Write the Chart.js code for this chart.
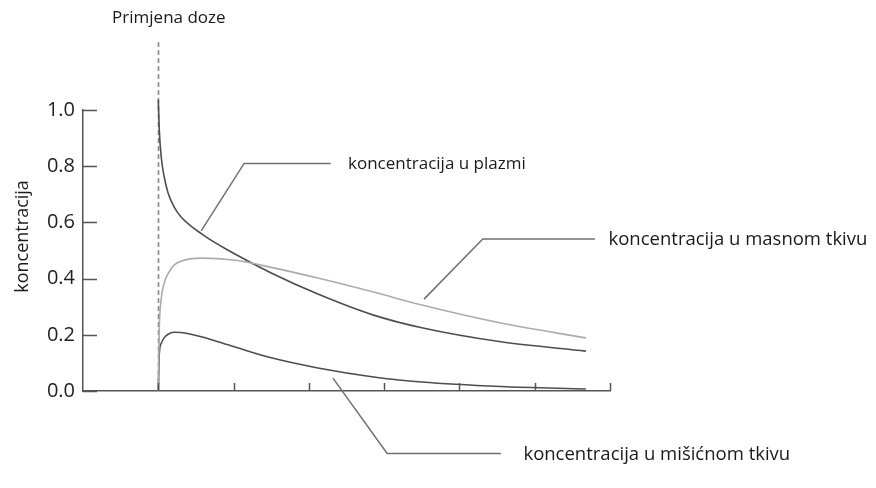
<!DOCTYPE html>
<html><head><meta charset="utf-8">
<script src="https://cdn.jsdelivr.net/npm/chart.js@4"></script>
<style>html,body{margin:0;padding:0;background:#fff;} canvas{display:block}</style>
</head><body>
<canvas id="c" width="876" height="488"></canvas>
<script>
// ---- data ----
const time   = [0, 0.013, 0.04, 0.08, 0.13, 0.21, 0.3, 0.57, 1.0, 1.5, 2.12, 2.86, 3.5, 4.55, 5.68];
const plasma = [1.036, 0.93, 0.83, 0.76, 0.705, 0.655, 0.62, 0.56, 0.49, 0.42, 0.345, 0.27, 0.225, 0.175, 0.142];
const fat    = [0, 0.22, 0.33, 0.385, 0.418, 0.448, 0.462, 0.473, 0.466, 0.44, 0.402, 0.352, 0.306, 0.242, 0.189];
const muscle = [0, 0.13, 0.17, 0.19, 0.202, 0.209, 0.208, 0.193, 0.158, 0.118, 0.082, 0.05, 0.032, 0.016, 0.007];
const yTicks = [0, 0.2, 0.4, 0.6, 0.8, 1.0];
const xTicks = [0, 1, 2, 3, 4, 5, 6];
const seriesLabels = ['koncentracija u plazmi', 'koncentracija u masnom tkivu', 'koncentracija u mišićnom tkivu'];
const doseLabel = 'Primjena doze';
const yTitle = 'koncentracija';

// ---- callouts (in data units) ----
const callouts = [
  { text: seriesLabels[0], path: [[0.57, 0.57], [1.14, 0.81], [2.29, 0.81]], tx: 2.52, size: 17 },
  { text: seriesLabels[1], path: [[3.53, 0.327], [4.31, 0.541], [5.8, 0.541]], tx: 5.98, size: 18.5 },
  { text: seriesLabels[2], path: [[2.32, 0.046], [3.04, -0.222], [4.55, -0.222]], tx: 4.85, size: 18.5 }
];

const FONT = '"Open Sans", sans-serif';
const pts = arr => time.map((t, i) => ({ x: t, y: arr[i] }));

const overlay = {
  id: 'overlay',
  beforeDatasetsDraw(chart) {
    const { ctx, scales: { x, y } } = chart;
    ctx.save();
    ctx.strokeStyle = '#888';
    ctx.lineWidth = 1.6;
    ctx.setLineDash([5, 3]);
    const px = Math.round(x.getPixelForValue(0)) + 0.5;
    ctx.beginPath();
    ctx.moveTo(px, y.getPixelForValue(0));
    ctx.lineTo(px, y.getPixelForValue(1.245));
    ctx.stroke();
    ctx.restore();
  },
  afterDraw(chart) {
    const { ctx, chartArea, scales: { x, y } } = chart;
    ctx.save();
    // inward ticks
    ctx.strokeStyle = '#555';
    ctx.lineWidth = 1.5;
    ctx.beginPath();
    yTicks.forEach(v => {
      const py = Math.round(y.getPixelForValue(v)) + 0.5;
      ctx.moveTo(chartArea.left, py);
      ctx.lineTo(chartArea.left + 14, py);
    });
    xTicks.forEach(v => {
      const px = Math.round(x.getPixelForValue(v)) + 0.5;
      ctx.moveTo(px, chartArea.bottom);
      ctx.lineTo(px, chartArea.bottom - 8);
    });
    ctx.stroke();
    // callout leader lines
    ctx.strokeStyle = '#707070';
    ctx.lineWidth = 1.5;
    ctx.fillStyle = '#1a1a1a';
    ctx.textBaseline = 'middle';
    ctx.textAlign = 'left';
    callouts.forEach(c => {
      ctx.beginPath();
      c.path.forEach((p, i) => {
        const px = x.getPixelForValue(p[0]), py = y.getPixelForValue(p[1]);
        if (i === 0) ctx.moveTo(px, py); else ctx.lineTo(px, py);
      });
      ctx.stroke();
      const last = c.path[c.path.length - 1];
      ctx.font = c.size + 'px ' + FONT;
      ctx.fillText(c.text, x.getPixelForValue(c.tx), y.getPixelForValue(last[1]) + 1);
    });
    // dose label
    ctx.font = '17px ' + FONT;
    ctx.textAlign = 'center';
    ctx.fillText(doseLabel, x.getPixelForValue(0.14), y.getPixelForValue(1.327));
    // y title
    ctx.font = '18px ' + FONT;
    ctx.translate(chartArea.left - 60, y.getPixelForValue(0.55));
    ctx.rotate(-Math.PI / 2);
    ctx.fillText(yTitle, 0, 0);
    ctx.restore();
  }
};

new Chart(document.getElementById('c'), {
  type: 'line',
  data: {
    datasets: [
      { label: seriesLabels[1], data: pts(fat), borderColor: '#ababab', borderWidth: 1.6 },
      { label: seriesLabels[0], data: pts(plasma), borderColor: '#4d4d4d', borderWidth: 1.6 },
      { label: seriesLabels[2], data: pts(muscle), borderColor: '#4d4d4d', borderWidth: 1.6 }
    ]
  },
  options: {
    responsive: false,
    animation: false,
    devicePixelRatio: 1,
    layout: { padding: { left: 0, top: 110, right: 266, bottom: 97 } },
    elements: {
      point: { radius: 0 },
      line: { cubicInterpolationMode: 'monotone', fill: false }
    },
    datasets: { line: { clip: false } },
    plugins: { legend: { display: false }, tooltip: { enabled: false } },
    scales: {
      x: {
        type: 'linear', min: -1, max: 6,
        ticks: { display: false, stepSize: 1 },
        grid: { display: false, drawTicks: false },
        border: { display: true, color: '#555', width: 1.5 },
        afterFit: s => { s.height = 0; }
      },
      y: {
        min: 0, max: 1,
        ticks: {
          stepSize: 0.2, padding: 8, color: '#222',
          font: { family: FONT, size: 20 },
          callback: v => Number(v).toFixed(1)
        },
        grid: { display: false, drawTicks: false },
        border: { display: true, color: '#555', width: 1.5 },
        afterFit: s => { s.width = 83; }
      }
    }
  },
  plugins: [overlay]
});
</script>
</body></html>
